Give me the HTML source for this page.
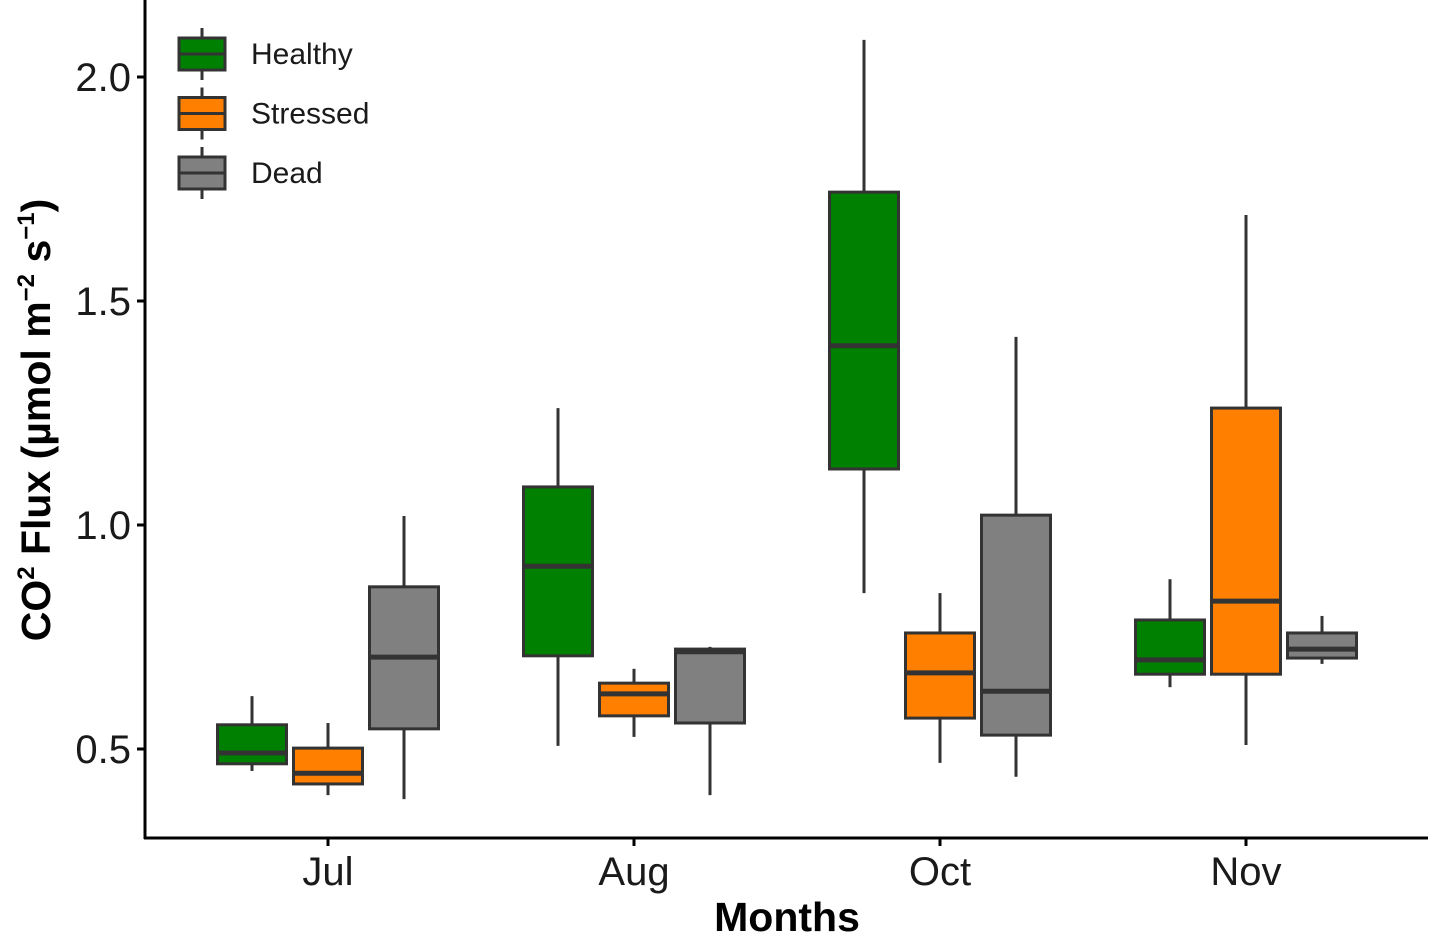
<!DOCTYPE html>
<html><head><meta charset="utf-8"><style>
html,body{margin:0;padding:0;background:#fff;}
svg{display:block;font-family:"Liberation Sans",Arial,sans-serif;}
</style></head><body>
<svg id="chart" width="1449" height="935" viewBox="0 0 1449 935"></svg>
<script>
const months = ["Jul","Aug","Oct","Nov"];
const groups = ["Healthy","Stressed","Dead"];
const groupColors = ["#008000","#FF8000","#808080"];
const yTicks = [0.5,1.0,1.5,2.0];
const yTickLabels = ["0.5","1.0","1.5","2.0"];
// [low, q1, median, q3, high] per month, per group
const healthyStats = [[0.451,0.467,0.491,0.554,0.618],[0.507,0.708,0.908,1.085,1.261],[0.848,1.125,1.400,1.743,2.083],[0.638,0.667,0.699,0.788,0.879]];
const stressedStats = [[0.397,0.422,0.446,0.502,0.558],[0.527,0.574,0.623,0.647,0.679],[0.469,0.569,0.670,0.759,0.848],[0.509,0.667,0.830,1.261,1.692]];
const deadStats = [[0.388,0.545,0.705,0.862,1.020],[0.397,0.558,0.717,0.723,0.728],[0.438,0.531,0.629,1.022,1.420],[0.690,0.703,0.723,0.759,0.797]];
const allStats = [healthyStats, stressedStats, deadStats];

const NS="http://www.w3.org/2000/svg";
const svg=document.getElementById("chart");
function el(tag,attrs,parent){const e=document.createElementNS(NS,tag);for(const k in attrs)e.setAttribute(k,attrs[k]);(parent||svg).appendChild(e);return e;}
const y=v=>749-(v-0.5)*448;
const x=i=>328+i*306;
const dodge=76, bw=69;

allStats.forEach((stats,g)=>{
  stats.forEach((s,m)=>{
    const cx=x(m)+(g-1)*dodge;
    const grp=el("g",{});
    
    
    el("line",{x1:cx,x2:cx,y1:y(s[4]),y2:y(s[3]),stroke:"#333","stroke-width":3},grp);
    el("line",{x1:cx,x2:cx,y1:y(s[1]),y2:y(s[0]),stroke:"#333","stroke-width":3},grp);
    el("rect",{x:cx-bw/2,y:y(s[3]),width:bw,height:y(s[1])-y(s[3]),fill:groupColors[g],stroke:"#333","stroke-width":3},grp);
    el("line",{x1:cx-bw/2,x2:cx+bw/2,y1:y(s[2]),y2:y(s[2]),stroke:"#333","stroke-width":5},grp);
  });
});

const ax=el("line",{x1:145,x2:145,y1:0,y2:839,stroke:"#000","stroke-width":3});


const xa=el("line",{x1:144,x2:1428,y1:838,y2:838,stroke:"#000","stroke-width":3});



yTicks.forEach((t,i)=>{
  el("line",{x1:137,x2:145,y1:y(t),y2:y(t),stroke:"#000","stroke-width":3});
  const tx=el("text",{x:131,y:y(t)+14,"text-anchor":"end","font-size":40,fill:"#1a1a1a"});
  tx.textContent=yTickLabels[i];
  
  
});
months.forEach((mo,i)=>{
  el("line",{x1:x(i),x2:x(i),y1:838,y2:846,stroke:"#000","stroke-width":3});
  const tx=el("text",{x:x(i),y:885,"text-anchor":"middle","font-size":40,fill:"#1a1a1a"});
  tx.textContent=mo;
  
  
});

groups.forEach((gname,g)=>{
  const cy=54+g*59.5;
  const lg=el("g",{});
  
  
  el("line",{x1:202,x2:202,y1:cy-26,y2:cy+26,stroke:"#333","stroke-width":3},lg);
  el("rect",{x:179,y:cy-16,width:46,height:32,fill:groupColors[g],stroke:"#333","stroke-width":3},lg);
  el("line",{x1:179,x2:225,y1:cy,y2:cy,stroke:"#333","stroke-width":3},lg);
  const t=el("text",{x:251,y:cy+10,"font-size":30,fill:"#1a1a1a"},lg);
  t.textContent=gname;
});
</script>
<div style="position:absolute;left:0;top:0;width:1449px;height:935px;pointer-events:none;">
<svg width="1449" height="935" style="position:absolute;left:0;top:0;font-family:'Liberation Sans',Arial,sans-serif;">
<text x="787" y="931" text-anchor="middle" font-size="41" font-weight="bold" fill="#000">Months</text>
<text transform="translate(50,420) rotate(-90)" text-anchor="middle" font-size="41" font-weight="bold" fill="#000">CO<tspan font-size="24" dy="-16">2</tspan><tspan dy="16"> Flux (µmol m</tspan><tspan font-size="24" dy="-16">−2</tspan><tspan dy="16"> s</tspan><tspan font-size="24" dy="-16">−1</tspan><tspan dy="16">)</tspan></text>
</svg></div>
</body></html>
